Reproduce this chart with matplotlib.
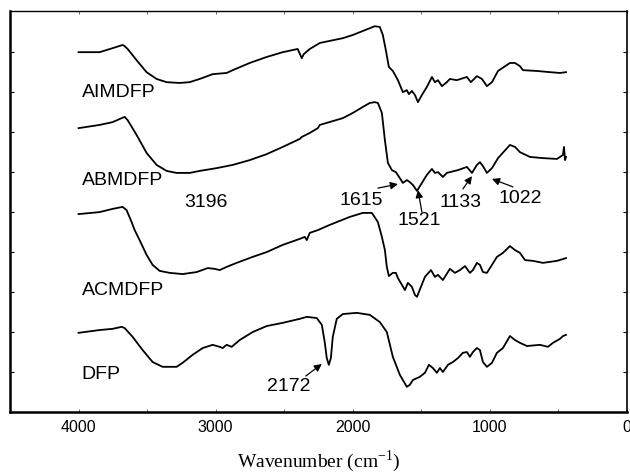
import numpy as np
import matplotlib.pyplot as plt
from matplotlib.ticker import MultipleLocator

plt.rcParams['font.family'] = ['Liberation Sans', 'DejaVu Sans']
plt.rcParams['mathtext.fontset'] = 'stix'

# FTIR spectra, offset vertically (arbitrary units)
aim_wn = [4000, 3847, 3752, 3679, 3664, 3642, 3577, 3504, 3431, 3358, 3263, 3190, 3117,
          3022, 2920, 2876, 2752, 2628, 2511, 2402, 2372, 2358, 2314, 2255, 2241, 2073,
          2000, 1876, 1839, 1803, 1781, 1759, 1737, 1708, 1671, 1635, 1606, 1591, 1569,
          1547, 1525, 1496, 1460, 1423, 1401, 1379, 1350, 1314, 1292, 1241, 1168, 1139,
          1095, 1058, 1022, 985, 941, 854, 817, 781, 759, 657, 562, 489, 445]
aim_y = [9.00, 9.00, 9.10, 9.18, 9.15, 9.08, 8.80, 8.50, 8.33, 8.25, 8.23, 8.25, 8.33,
         8.45, 8.48, 8.55, 8.73, 8.88, 9.00, 9.08, 8.85, 8.95, 9.08, 9.20, 9.23, 9.35,
         9.43, 9.60, 9.65, 9.63, 9.43, 9.05, 8.63, 8.53, 8.30, 8.00, 8.05, 7.95, 8.03,
         7.93, 7.75, 7.93, 8.13, 8.38, 8.25, 8.30, 8.15, 8.25, 8.33, 8.30, 8.38, 8.25,
         8.40, 8.33, 8.15, 8.25, 8.53, 8.73, 8.73, 8.65, 8.55, 8.53, 8.50, 8.48, 8.50]

abm_wn = [4000, 3847, 3752, 3686, 3664, 3642, 3577, 3504, 3431, 3358, 3285, 3190, 3117,
          2993, 2876, 2752, 2628, 2511, 2387, 2372, 2314, 2255, 2241, 2073, 2000, 1927,
          1876, 1839, 1817, 1788, 1766, 1744, 1715, 1686, 1657, 1635, 1606, 1584, 1562,
          1532, 1496, 1460, 1423, 1401, 1379, 1343, 1314, 1292, 1233, 1168, 1131, 1095,
          1073, 1051, 1022, 985, 941, 854, 817, 781, 708, 613, 511, 467, 460, 452, 445]
abm_y = [7.10, 7.18, 7.25, 7.35, 7.38, 7.30, 6.93, 6.48, 6.18, 6.03, 5.98, 5.98, 6.03,
         6.10, 6.18, 6.30, 6.45, 6.63, 6.83, 6.88, 6.98, 7.10, 7.18, 7.35, 7.48, 7.63,
         7.73, 7.75, 7.73, 7.48, 6.80, 6.23, 6.05, 6.00, 5.85, 5.73, 5.80, 5.75, 5.68,
         5.53, 5.73, 5.93, 6.08, 5.98, 6.00, 5.88, 5.98, 6.00, 6.05, 6.13, 5.98, 6.18,
         6.25, 6.15, 5.98, 6.10, 6.35, 6.68, 6.63, 6.50, 6.38, 6.35, 6.33, 6.43, 6.63,
         6.30, 6.38]

acm_wn = [4000, 3847, 3752, 3679, 3650, 3613, 3591, 3555, 3504, 3460, 3409, 3336, 3241,
          3139, 3058, 3007, 2971, 2920, 2847, 2730, 2628, 2511, 2387, 2350, 2336, 2314,
          2255, 2168, 2022, 1927, 1861, 1817, 1788, 1766, 1752, 1737, 1708, 1686, 1671,
          1642, 1620, 1598, 1569, 1547, 1532, 1503, 1474, 1430, 1401, 1379, 1343, 1292,
          1255, 1219, 1182, 1146, 1124, 1095, 1073, 1051, 1022, 985, 949, 905, 854, 817,
          781, 744, 686, 613, 511, 445]
acm_y = [4.95, 5.00, 5.08, 5.13, 5.05, 4.75, 4.55, 4.30, 3.93, 3.68, 3.53, 3.48, 3.45,
         3.50, 3.60, 3.58, 3.55, 3.63, 3.73, 3.88, 4.00, 4.18, 4.33, 4.38, 4.30, 4.48,
         4.55, 4.68, 4.88, 4.98, 4.98, 4.75, 4.38, 4.05, 3.63, 3.40, 3.48, 3.48, 3.35,
         3.18, 3.05, 3.23, 3.13, 2.93, 2.88, 3.13, 3.38, 3.55, 3.38, 3.43, 3.30, 3.58,
         3.48, 3.55, 3.65, 3.48, 3.55, 3.73, 3.68, 3.50, 3.48, 3.68, 3.88, 3.98, 4.15,
         4.05, 3.98, 3.80, 3.78, 3.73, 3.78, 3.85]

dfp_wn = [4000, 3847, 3752, 3686, 3664, 3606, 3533, 3460, 3387, 3285, 3241, 3168, 3095,
          3022, 2971, 2949, 2920, 2883, 2825, 2730, 2628, 2511, 2387, 2336, 2263, 2226,
          2204, 2190, 2175, 2160, 2146, 2117, 2073, 1971, 1876, 1803, 1752, 1708, 1657,
          1606, 1584, 1562, 1511, 1474, 1445, 1416, 1387, 1365, 1343, 1306, 1270, 1233,
          1197, 1168, 1146, 1124, 1095, 1073, 1051, 1022, 985, 949, 905, 854, 817, 781,
          730, 635, 577, 540, 489, 467, 445]
dfp_y = [1.98, 2.05, 2.08, 2.13, 2.10, 1.88, 1.55, 1.25, 1.13, 1.13, 1.23, 1.43, 1.60,
         1.68, 1.63, 1.60, 1.68, 1.63, 1.80, 2.00, 2.15, 2.23, 2.33, 2.38, 2.35, 2.18,
         1.73, 1.35, 1.18, 1.35, 1.88, 2.33, 2.45, 2.48, 2.43, 2.25, 2.00, 1.38, 0.93,
         0.63, 0.68, 0.80, 0.88, 0.98, 1.18, 1.10, 0.98, 1.10, 1.00, 1.18, 1.25, 1.35,
         1.48, 1.50, 1.38, 1.50, 1.60, 1.55, 1.25, 1.13, 1.23, 1.48, 1.60, 1.90, 1.80,
         1.73, 1.65, 1.68, 1.63, 1.73, 1.83, 1.90, 1.93]

names = ['AIMDFP', 'ABMDFP', 'ACMDFP', 'DFP']
name_y = [8.0, 5.78, 3.05, 0.95]

# peak labels: text, text position, arrow tail, arrow tip (None = no arrow)
peak_text = ['3196', '2172', '1615', '1521', '1133', '1022']
peak_pos = [(3073, 5.25), (2467, 0.63), (1941, 5.28), (1518, 4.78), (1211, 5.23), (781, 5.35)]
peak_tail = [None, (2343, 0.9), (1817, 5.6), (1496, 5.0), (1197, 5.58), (832, 5.63)]
peak_tip = [None, (2226, 1.2), (1671, 5.7), (1525, 5.55), (1131, 5.9), (985, 5.83)]

fig = plt.figure(figsize=(6.3, 4.74), dpi=100)
ax = fig.add_axes([0.0159, 0.1308, 0.9794, 0.846])

for wn, y in [(aim_wn, aim_y), (abm_wn, abm_y), (acm_wn, acm_y), (dfp_wn, dfp_y)]:
    ax.plot(wn, y, color='black', lw=1.3)

for name, y in zip(names, name_y):
    ax.text(3978, y, name, fontsize=14, ha='left', va='center')

for txt, pos, tail, tip in zip(peak_text, peak_pos, peak_tail, peak_tip):
    ax.text(pos[0], pos[1], txt, fontsize=14, ha='center', va='center')
    if tip is not None:
        ax.annotate('', xy=tip, xytext=tail,
                    arrowprops=dict(arrowstyle='-|>', color='black', lw=0.9,
                                    mutation_scale=11, shrinkA=0, shrinkB=0))

ax.set_xlim(4500, 0)
ax.set_ylim(0, 10.03)
ax.xaxis.set_major_locator(MultipleLocator(1000))
ax.xaxis.set_minor_locator(MultipleLocator(500))
ax.set_yticks(range(1, 10))
ax.set_yticklabels([])
ax.tick_params(axis='x', which='both', direction='in', length=2.5, width=0.6,
               top=True, labelsize=11.5, pad=6, color='#555555')
ax.tick_params(axis='y', direction='in', length=3, width=0.8, right=True)

ax.spines['left'].set_linewidth(1.8)
ax.spines['bottom'].set_linewidth(1.8)
ax.spines['top'].set_linewidth(1.0)
ax.spines['right'].set_linewidth(1.2)

ax.set_xlabel('Wavenumber (cm$^{\\mathregular{-1}}$)', fontsize=14,
              family='Liberation Serif', labelpad=10)

fig.savefig('out.png', dpi=100)
